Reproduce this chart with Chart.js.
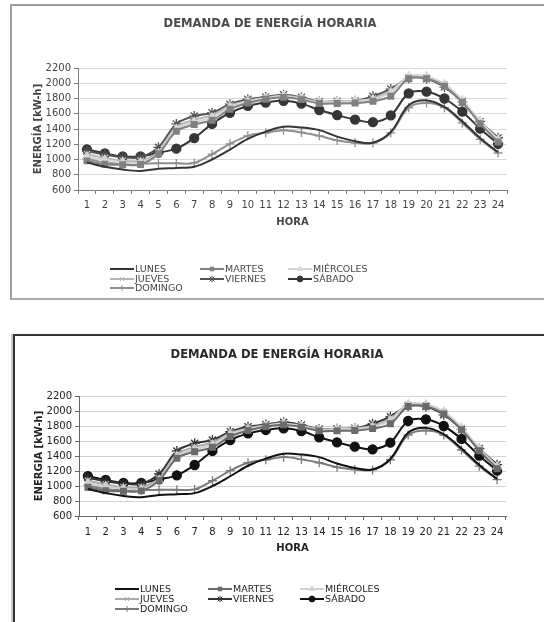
<!DOCTYPE html>
<html lang="es">
<head>
<meta charset="UTF-8">
<title>Demanda de energía horaria</title>
<style>
    * { box-sizing: content-box; margin: 0; padding: 0; }
    html, body { width: 544px; height: 622px; overflow: hidden; background: #fff; }

    .box {
        position            : absolute;
        background          : #fff;
        overflow            : hidden;
    }
    #boxTop {
        left                : 10px;
        top                 : 4px;
        width               : 532px;
        height              : 292px;
        border-left         : 2px solid #9c9c9c;
        border-top          : 2px solid #9c9c9c;
        border-bottom       : 2px solid #a8a8a8;
    }
    #boxBot {
        left                : 13px;
        top                 : 334px;
        width               : 529px;
        height              : 286px;
        border-left         : 2px solid #333;
        border-top          : 2px solid #333;
        box-shadow          : -2px 0 0 #c8c8c8;
    }
    .wrap { position: relative; width: 100%; }
    #boxTop .wrap { height: 292px; }
    #boxBot .wrap { height: 286px; }
    #boxTop canvas { filter: blur(0.5px); opacity: 0.85; }
</style>
</head>
<body>
    <div id="boxTop" class="box"><div class="wrap"><canvas id="chartTop"></canvas></div></div>
    <div id="boxBot" class="box"><div class="wrap"><canvas id="chartBot"></canvas></div></div>

    <script src="https://cdn.jsdelivr.net/npm/chart.js@4/dist/chart.umd.min.js"></script>
    <script>
        "use strict";

        // hourly demand, kW-h, one array per weekday
        const hours      = ["1","2","3","4","5","6","7","8","9","10","11","12",
                            "13","14","15","16","17","18","19","20","21","22","23","24"]
        const lunes      = [960, 905, 868, 850, 880, 890, 905, 1000, 1130, 1270, 1365, 1430,
                            1420, 1385, 1300, 1240, 1220, 1360, 1710, 1775, 1690, 1500, 1280, 1095]
        const martes     = [982, 938, 930, 935, 1075, 1370, 1458, 1516, 1660, 1740, 1790, 1815,
                            1785, 1735, 1735, 1740, 1765, 1830, 2060, 2060, 1960, 1750, 1470, 1230]
        const miercoles  = [1040, 995, 965, 960, 1080, 1400, 1490, 1550, 1690, 1760, 1800, 1830,
                            1795, 1750, 1760, 1765, 1790, 1880, 2090, 2090, 1990, 1780, 1500, 1260]
        const jueves     = [1070, 1020, 985, 985, 1100, 1420, 1520, 1580, 1705, 1770, 1810, 1835,
                            1805, 1755, 1760, 1770, 1800, 1900, 2080, 2075, 1985, 1775, 1495, 1265]
        const viernes    = [1110, 1065, 1030, 1030, 1160, 1467, 1569, 1613, 1725, 1790, 1820, 1850,
                            1815, 1760, 1765, 1770, 1830, 1925, 2065, 2060, 1950, 1755, 1500, 1285]
        const sabado     = [1133, 1080, 1040, 1040, 1089, 1142, 1280, 1467, 1613, 1702, 1747, 1769,
                            1733, 1649, 1582, 1524, 1489, 1578, 1867, 1889, 1800, 1627, 1404, 1205]
        const domingo    = [1010, 960, 945, 945, 950, 950, 955, 1070, 1205, 1310, 1350, 1385,
                            1355, 1310, 1250, 1220, 1215, 1350, 1680, 1740, 1680, 1480, 1265, 1085]
        const yTicks     = [600, 800, 1000, 1200, 1400, 1600, 1800, 2000, 2200]

        const FONT = "'DejaVu Sans', Verdana, sans-serif"

        // name, values, colour, marker, marker radius
        const series = [
            ["LUNES",     lunes,     "#111", false,      0  ],
            ["MARTES",    martes,    "#6a6a6a", "rect",  4  ],
            ["MIÉRCOLES", miercoles, "#cfcfcf", "triangle", 4.5],
            ["JUEVES",    jueves,    "#a9a9a9", "crossRot", 4.5],
            ["VIERNES",   viernes,   "#333", "star",     5  ],
            ["SÁBADO",    sabado,    "#111", "circle",   4.5],
            ["DOMINGO",   domingo,   "#7a7a7a", "cross", 4.5]
        ]

        // chart title and 3-column legend, drawn on the canvas
        const decor = {
            id: "decor",
            afterDraw(chart, args, opts) {
                const ctx = chart.ctx
                ctx.save()
                ctx.fillStyle = "#2a2a2a"
                ctx.font = "bold 11.6px " + FONT
                ctx.textAlign = "center"
                ctx.textBaseline = "middle"
                ctx.fillText(opts.title, opts.titleX, opts.titleY)

                ctx.font = "9.5px " + FONT
                ctx.textAlign = "left"
                chart.data.datasets.forEach((ds, i) => {
                    const x = opts.cols[i % 3]
                    const y = opts.rows[Math.floor(i / 3)]
                    ctx.strokeStyle = ds.borderColor
                    ctx.fillStyle = ds.borderColor
                    ctx.lineWidth = 2
                    ctx.beginPath()
                    ctx.moveTo(x, y)
                    ctx.lineTo(x + 24, y)
                    ctx.stroke()
                    if (ds.pointStyle && Chart.helpers && Chart.helpers.drawPoint) {
                        ctx.lineWidth = 1
                        Chart.helpers.drawPoint(ctx, {
                            pointStyle: ds.pointStyle,
                            radius: ds.pointRadius * 0.65,
                            rotation: 0,
                            borderWidth: 1
                        }, x + 12, y)
                    }
                    ctx.fillStyle = "#222"
                    ctx.fillText(ds.label, x + 25, y + 0.5)
                })
                ctx.restore()
            }
        }

        function makeChart(id, yTitle, box) {
            const yW = 50, xH = 42
            const canvas = document.getElementById(id)
            return new Chart(canvas.getContext("2d"), {
                type: "line",
                data: {
                    labels: hours,
                    datasets: series.map(s => ({
                        label: s[0],
                        data: s[1],
                        borderColor: s[2],
                        backgroundColor: s[2],
                        borderWidth: 2,
                        pointStyle: s[3],
                        pointRadius: s[4],
                        pointBorderWidth: 1.3,
                        tension: 0.35,
                        fill: false
                    }))
                },
                options: {
                    responsive: true,
                    maintainAspectRatio: false,
                    animation: false,
                    layout: {
                        padding: {
                            left: box.left - yW,
                            top: box.top,
                            right: box.width - box.right,
                            bottom: box.height - box.bottom - xH
                        }
                    },
                    plugins: {
                        legend: { display: false },
                        tooltip: { enabled: false },
                        decor: box.decor
                    },
                    scales: {
                        x: {
                            offset: true,
                            afterFit: s => { s.height = xH },
                            grid: {
                                offset: true,
                                drawOnChartArea: false,
                                drawTicks: true,
                                tickLength: 4,
                                color: "#666"
                            },
                            border: { color: "#666", width: 1 },
                            ticks: {
                                color: "#222",
                                padding: box.xPad,
                                maxRotation: 0,
                                autoSkip: false,
                                font: { family: FONT, size: 10 }
                            },
                            title: {
                                display: true,
                                text: "HORA",
                                color: "#222",
                                padding: { top: 4, bottom: 4 },
                                font: { family: FONT, size: 10, weight: "bold" }
                            }
                        },
                        y: {
                            min: yTicks[0],
                            max: yTicks[yTicks.length - 1],
                            afterFit: s => { s.width = yW },
                            afterBuildTicks: s => { s.ticks = yTicks.map(v => ({ value: v })) },
                            grid: {
                                color: "#d2d2d2",
                                lineWidth: 1,
                                drawTicks: true,
                                tickLength: 4,
                                tickColor: "#666"
                            },
                            border: { color: "#666", width: 1 },
                            ticks: {
                                color: "#222",
                                padding: 3,
                                callback: v => String(v),
                                font: { family: FONT, size: 10 }
                            },
                            title: {
                                display: true,
                                text: yTitle,
                                color: "#222",
                                padding: { top: 4, bottom: 4 },
                                font: { family: FONT, size: 10, weight: "bold" }
                            }
                        }
                    }
                },
                plugins: [decor]
            })
        }

        makeChart("chartTop", "ENERGÍA [kW-h]", {
            left: 66, top: 62, right: 495, bottom: 184, width: 532, height: 292, xPad: 5,
            decor: {
                title: "DEMANDA DE ENERGÍA HORARIA", titleX: 258, titleY: 18,
                cols: [98, 188, 276], rows: [263, 273, 282]
            }
        })

        makeChart("chartBot", "ENERGIA [kW-h]", {
            left: 64, top: 60, right: 491, bottom: 180, width: 529, height: 286, xPad: 6,
            decor: {
                title: "DEMANDA DE ENERGÍA HORARIA", titleX: 262, titleY: 19,
                cols: [100, 193, 285], rows: [253, 263, 273]
            }
        })
    </script>
</body>
</html>
